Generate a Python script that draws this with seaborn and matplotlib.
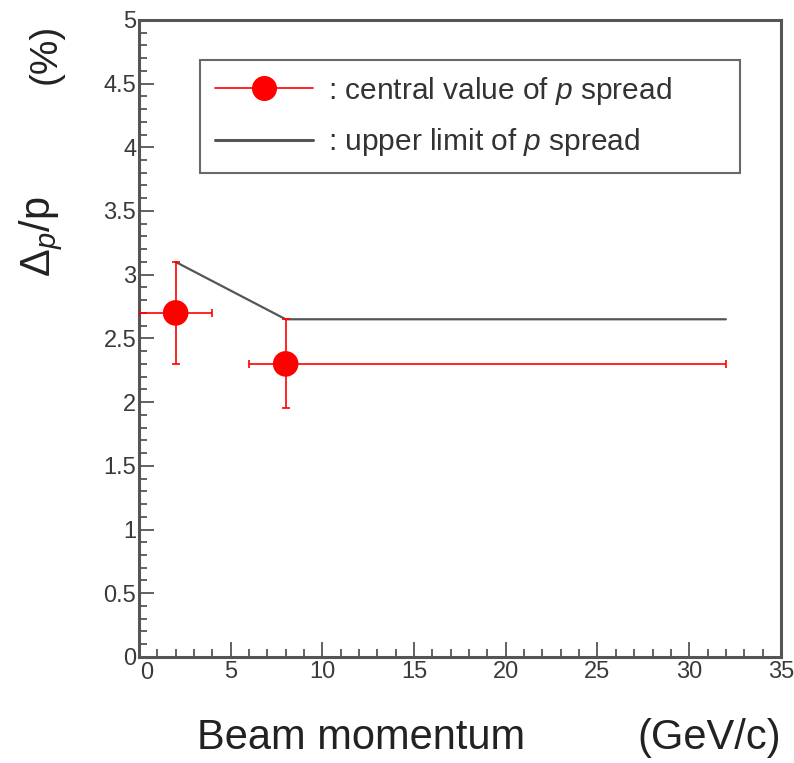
import numpy as np
import pandas as pd
import matplotlib
matplotlib.use("Agg")
import matplotlib.pyplot as plt
from matplotlib.lines import Line2D
from matplotlib.ticker import MultipleLocator, FuncFormatter
from matplotlib.transforms import ScaledTranslation
import seaborn as sns

# Measured beam momentum spread
momentum = [2.0, 8.0]            # GeV/c
spread = [2.7, 2.3]              # %
mom_err_lo = [2.0, 2.0]
mom_err_hi = [2.0, 24.0]
spread_err_lo = [0.4, 0.35]
spread_err_hi = [0.4, 0.35]

# Upper limit of the spread
limit_mom = [2.0, 8.0, 32.0]
limit_spread = [3.1, 2.65, 2.65]

sns.set_theme(style="ticks")
plt.rcParams["font.family"] = ["Liberation Sans", "DejaVu Sans"]
plt.rcParams["mathtext.fontset"] = "custom"
plt.rcParams["mathtext.rm"] = "Liberation Sans"
plt.rcParams["mathtext.it"] = "Liberation Sans:italic"

RED = "#ff0000"
GRAY = "#555555"
TXT = "#3a3a3a"

fig = plt.figure(figsize=(7.94, 7.63), dpi=100)
ax = fig.add_axes([0.175, 0.139, 0.8085, 0.835])

meas = pd.DataFrame({"momentum": momentum, "spread": spread})
lim = pd.DataFrame({"momentum": limit_mom, "spread": limit_spread})

sns.lineplot(data=lim, x="momentum", y="spread", ax=ax, color=GRAY,
             linewidth=1.6, sort=False, zorder=2)
ax.errorbar(momentum, spread,
            xerr=[mom_err_lo, mom_err_hi],
            yerr=[spread_err_lo, spread_err_hi],
            fmt="none", ecolor=RED, elinewidth=1.2, capsize=3, capthick=1.2,
            zorder=3)
sns.scatterplot(data=meas, x="momentum", y="spread", ax=ax, color=RED,
                s=340, edgecolor="none", zorder=4)

ax.set_xlim(0, 35)
ax.set_ylim(0, 5)
ax.xaxis.set_major_locator(MultipleLocator(5))
ax.xaxis.set_minor_locator(MultipleLocator(1))
ax.yaxis.set_major_locator(MultipleLocator(0.5))
ax.yaxis.set_minor_locator(MultipleLocator(0.1))
ax.yaxis.set_major_formatter(FuncFormatter(lambda v, p: f"{v:g}"))
# the x origin label is drawn separately, just right of the y-axis
ax.xaxis.set_major_formatter(FuncFormatter(lambda v, p: "" if v == 0 else f"{v:g}"))

ax.tick_params(axis="both", which="major", direction="in", length=11,
               width=1.3, color=GRAY, labelsize=17, labelcolor=TXT,
               top=False, right=False)
ax.tick_params(axis="both", which="minor", direction="in", length=5.5,
               width=1.3, color=GRAY, top=False, right=False)
ax.tick_params(axis="y", which="major", pad=2)
ax.tick_params(axis="x", which="major", pad=3)

for s in ax.spines.values():
    s.set_color(GRAY)
    s.set_linewidth(2.2)

ax.set_xlabel("")
ax.set_ylabel("")

ax.text(0, 0, "0", fontsize=17, color=TXT, ha="left", va="top",
        transform=ax.transData + ScaledTranslation(1 / 72, -4 / 72,
                                                   fig.dpi_scale_trans))

fig.text(0.455, 0.019, "Beam momentum", fontsize=30, color="#222222",
         ha="center", va="baseline")
fig.text(0.893, 0.019, "(GeV/c)", fontsize=30, color="#222222",
         ha="center", va="baseline")
fig.text(0.052, 0.69, r"$\Delta_{p}$/p", fontsize=30, color="#222222",
         rotation=90, ha="center", va="center")
fig.text(0.057, 0.93, "(%)", fontsize=28, color="#222222",
         rotation=90, ha="center", va="center")

handles = [
    Line2D([0], [0], color=RED, linewidth=1.2, marker="o", markersize=17,
           markerfacecolor=RED, markeredgecolor=RED),
    Line2D([0], [0], color=GRAY, linewidth=2.2),
]
labels = [": central value of $p$ spread", ": upper limit of $p$ spread"]
leg = ax.legend(handles, labels, loc="upper left",
                bbox_to_anchor=(0.095, 0.764, 0.841, 0.173), mode="expand",
                borderaxespad=0, fontsize=21.5, handlelength=3.3,
                handletextpad=0.5, labelspacing=0.65, borderpad=0.5,
                fancybox=False, frameon=True, labelcolor="#333333")
leg.get_frame().set_edgecolor("#444444")
leg.get_frame().set_linewidth(1.5)

fig.savefig("out.png", dpi=100)
